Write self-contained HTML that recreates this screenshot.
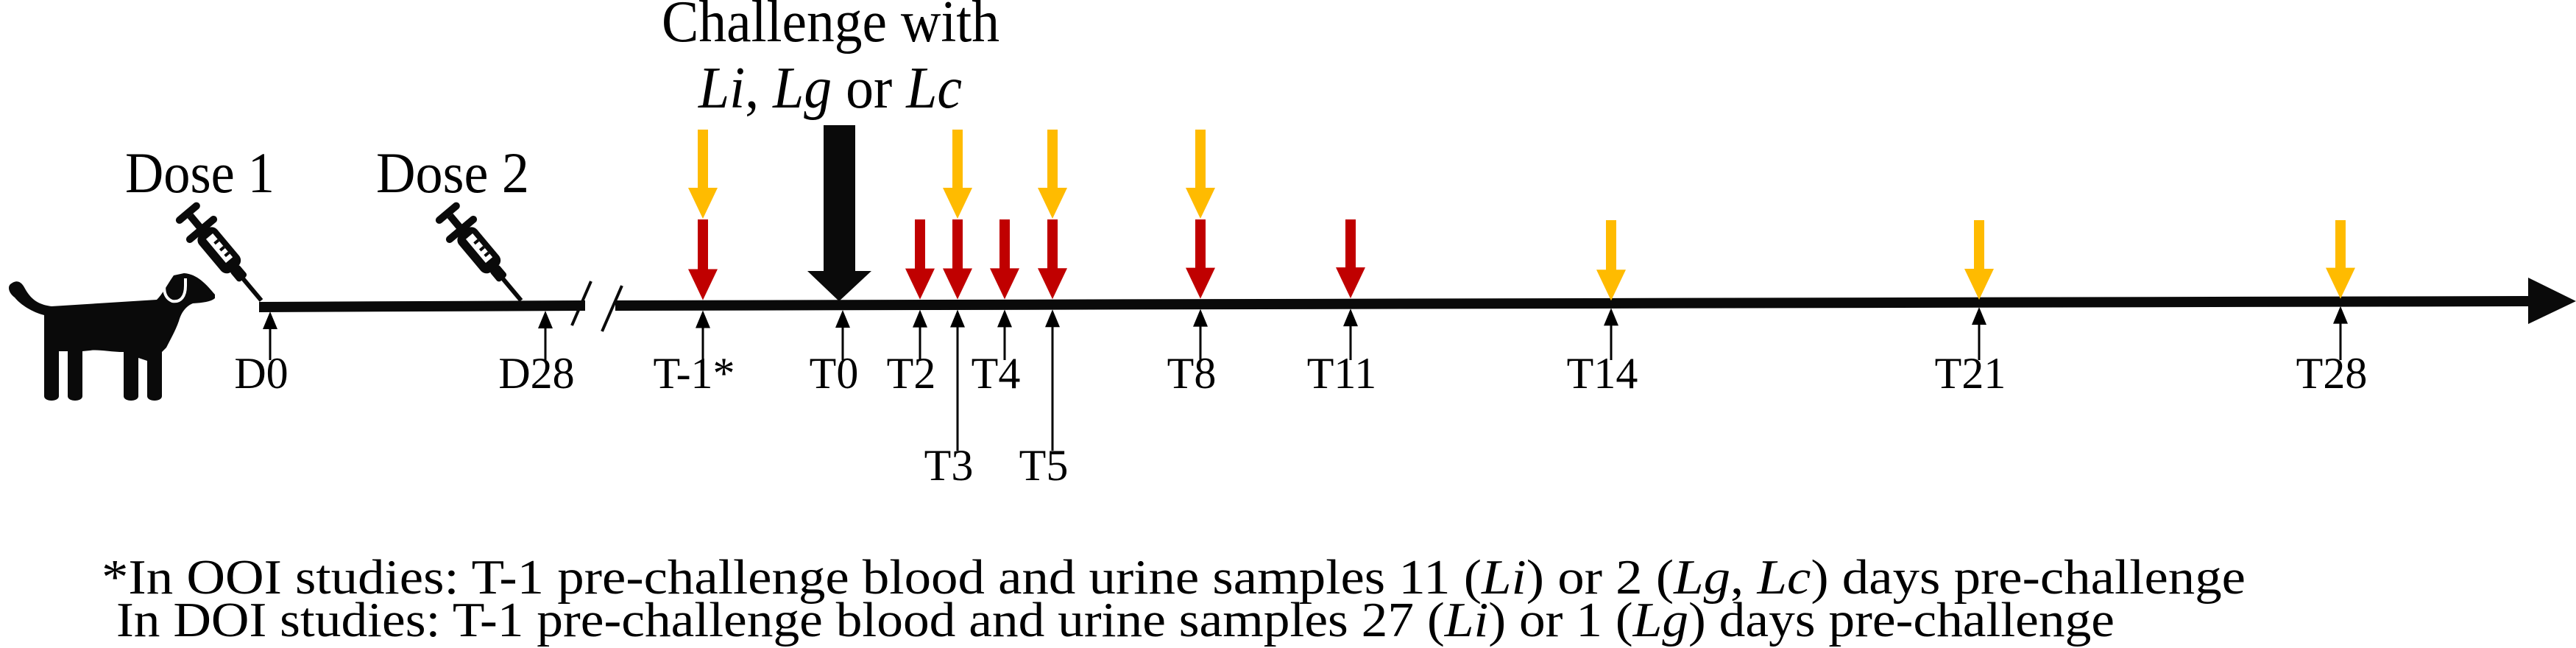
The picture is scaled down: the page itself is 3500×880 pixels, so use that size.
<!DOCTYPE html>
<html><head><meta charset="utf-8"><style>
html,body{margin:0;padding:0;background:#fff;width:3500px;height:880px;overflow:hidden}
svg{display:block}
text{font-family:"Liberation Serif","Times New Roman",serif;fill:#000}
</style></head><body>
<svg id="chart" width="3500" height="880" viewBox="0 0 3500 880" xmlns="http://www.w3.org/2000/svg">
  <g fill="#0a0a0a">
    <path d="M14,386 C24,378 30,384 34,392 C44,410 56,414 70,416 L213,407 C222,398 228,385 236,374 L250,371 C268,372 280,386 292,400 L292,405 C286,410 276,411 262,412 C252,416 246,425 243,436 C238,450 232,460 226,472 L220,478 L220,538 C220,546 200,546 200,538 L200,490 L188,486 L188,538 C188,546 168,546 168,538 L168,478 C150,478 132,474 122,476 L112,477 L112,538 C112,546 92,546 92,538 L92,477 L80,477 L80,538 C80,546 60,546 60,538 L60,428 C44,424 28,414 20,404 C12,398 10,390 14,386 Z"/>
    <path d="M224,376 C222,392 222,404 234,409 C246,411 252,402 252,388 L252,378" fill="none" stroke="#fff" stroke-width="4"/>
  </g>
  <g id="syringes"></g>
  <g>
    <polygon points="352,410 795,408 795,422 352,424" fill="#0a0a0a"/>
    <polygon points="836,408 3440,402 3440,416 836,422" fill="#0a0a0a"/>
    <polygon points="3435,377 3500,409 3435,440" fill="#0a0a0a"/>
    <line x1="803" y1="382" x2="777" y2="442" stroke="#0a0a0a" stroke-width="4"/>
    <line x1="845" y1="388" x2="818" y2="450" stroke="#0a0a0a" stroke-width="4"/>
  </g>
  <g fill="#0a0a0a">
    <rect x="1119" y="170" width="43" height="200"/>
    <polygon points="1097,368 1184,368 1140,409"/>
  </g>
  <text x="899" y="56" font-size="80" textLength="459" lengthAdjust="spacingAndGlyphs">Challenge with</text>
  <text x="949" y="146" font-size="80" textLength="358" lengthAdjust="spacingAndGlyphs"><tspan font-style="italic">Li</tspan>, <tspan font-style="italic">Lg</tspan> or <tspan font-style="italic">Lc</tspan></text>
  <text x="170" y="261" font-size="78" textLength="203" lengthAdjust="spacingAndGlyphs">Dose 1</text>
  <text x="511" y="261" font-size="78" textLength="208" lengthAdjust="spacingAndGlyphs">Dose 2</text>
  <g id="marks"></g>
  <text x="138" y="806" font-size="67" textLength="2913" lengthAdjust="spacingAndGlyphs">*In OOI studies: T-1 pre-challenge blood and urine samples 11 (<tspan font-style="italic">Li</tspan>) or 2 (<tspan font-style="italic">Lg</tspan>, <tspan font-style="italic">Lc</tspan>) days pre-challenge</text>
  <text x="158" y="864" font-size="67" textLength="2715" lengthAdjust="spacingAndGlyphs">In DOI studies: T-1 pre-challenge blood and urine samples 27 (<tspan font-style="italic">Li</tspan>) or 1 (<tspan font-style="italic">Lg</tspan>) days pre-challenge</text>
</svg>
<script>
// data
const doseDays = [0, 28];
const doseLabels = ['D0', 'D28'];
const challengeDays = [-1, 0, 2, 3, 4, 5, 8, 11, 14, 21, 28];
const challengeLabels = ['T-1*', 'T0', 'T2', 'T3', 'T4', 'T5', 'T8', 'T11', 'T14', 'T21', 'T28'];
const redSampleDays = [-1, 2, 3, 4, 5, 8, 11];
const yellowSampleDays = [-1, 3, 5, 8, 14, 21, 28];
const lowLabelDays = [3, 5];

const NS = 'http://www.w3.org/2000/svg';
const marks = document.getElementById('marks');
const doseKnots = [[0, 367], [28, 741]];
const chalKnots = [[-1, 955], [0, 1145], [2, 1250], [3, 1301], [4, 1365], [5, 1430], [8, 1631], [11, 1835], [14, 2189], [21, 2689], [28, 3180]];
function interp(kn, d) {
  for (let i = 0; i < kn.length - 1; i++) {
    const a = kn[i], b = kn[i + 1];
    if (d <= b[0] || i === kn.length - 2) return a[1] + (d - a[0]) * (b[1] - a[1]) / (b[0] - a[0]);
  }
  return kn[0][1];
}
const xDose = d => interp(doseKnots, d);
const xChal = d => interp(chalKnots, d);
const axisY = x => 417 - (x - 352) * 8 / 3088;

function el(tag, attrs, parent) {
  const e = document.createElementNS(NS, tag);
  for (const k in attrs) e.setAttribute(k, attrs[k]);
  (parent || marks).appendChild(e);
  return e;
}
function downArrow(x, top, tip, color, name) {
  const g = el('g', {});
  
  
  el('rect', {x: x - 7, y: top, width: 14, height: tip - 41 - top, fill: color}, g);
  el('polygon', {points: `${x - 20},${tip - 42} ${x + 20},${tip - 42} ${x},${tip}`, fill: color}, g);
}
function tick(x, label, low, name) {
  const g = el('g', {});
  
  
  const y = axisY(x) + 6;
  const bottom = low ? 612 : 489;
  el('line', {x1: x, y1: y + 15, x2: x, y2: bottom, stroke: '#000', 'stroke-width': 3}, g);
  el('polygon', {points: `${x - 10},${y + 24} ${x + 10},${y + 24} ${x},${y}`, fill: '#000'}, g);
  const t = el('text', {x: x - 12, y: low ? 652 : 527, 'font-size': 60, 'text-anchor': 'middle'}, g);
  t.textContent = label;
}
doseDays.forEach((d, i) => tick(xDose(d), doseLabels[i], false, 'tick-' + doseLabels[i].toLowerCase()));
challengeDays.forEach((d, i) => tick(xChal(d), challengeLabels[i], lowLabelDays.includes(d), 'tick-' + challengeLabels[i].replace('*', '').toLowerCase()));
redSampleDays.forEach(d => {
  const x = xChal(d);
  downArrow(x, 298, axisY(x) - 8, '#c00000', 'red-sample-arrow-t' + d);
});
yellowSampleDays.forEach(d => {
  const x = xChal(d);
  if (redSampleDays.includes(d)) downArrow(x, 176, 297, '#ffbb00', 'yellow-sample-arrow-t' + d);
  else downArrow(x, 299, axisY(x) - 4, '#ffbb00', 'yellow-sample-arrow-t' + d);
});
const syr = document.getElementById('syringes');
doseDays.forEach((d, i) => {
  const x = xDose(d) - 12 - i * 21, y = 408;
  const g = el('g', {transform: `translate(${x},${y}) rotate(50)`, fill: '#0a0a0a'}, syr);
  
  
  el('rect', {x: -40, y: -3, width: 40, height: 6}, g);
  el('rect', {x: -58, y: -8, width: 20, height: 16, rx: 4}, g);
  el('rect', {x: -122, y: -16, width: 66, height: 32, rx: 10}, g);
  el('rect', {x: -112, y: -8, width: 42, height: 12, fill: '#fff'}, g);
  el('rect', {x: -102, y: -8, width: 4, height: 7}, g);
  el('rect', {x: -90, y: -8, width: 4, height: 7}, g);
  el('rect', {x: -80, y: -8, width: 4, height: 7}, g);
  el('rect', {x: -131, y: -26, width: 10, height: 52, rx: 5}, g);
  el('rect', {x: -150, y: -5, width: 22, height: 10}, g);
  el('rect', {x: -160, y: -20, width: 10, height: 40, rx: 5}, g);
});
</script>
</body></html>
